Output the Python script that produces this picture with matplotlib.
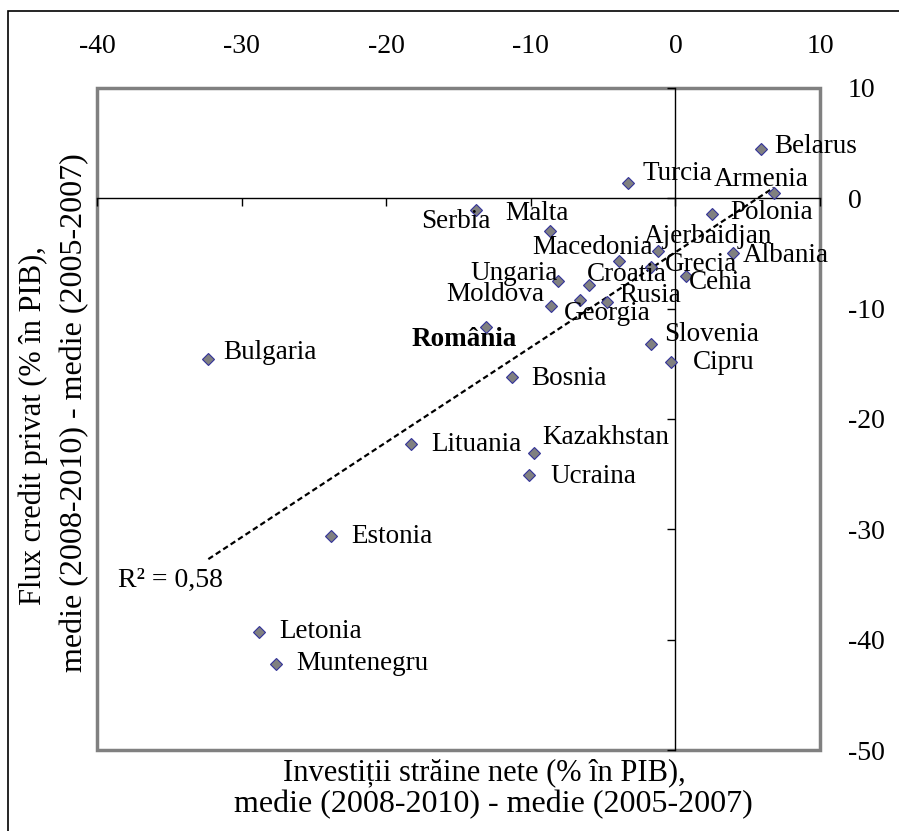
import numpy as np
import matplotlib
matplotlib.use("Agg")
import matplotlib.pyplot as plt
from matplotlib.patches import Rectangle

plt.rcParams['font.family'] = ['Liberation Serif', 'DejaVu Serif']
plt.rcParams['axes.unicode_minus'] = False

# data: net foreign investment vs private credit flow (% of GDP)
countries = ["Belarus", "Turcia", "Armenia", "Serbia", "Malta", "Polonia",
             "Ajerbaidjan", "Albania", "Macedonia", "Grecia", "Cehia",
             "Ungaria", "Croatia", "Moldova", "Georgia", "Rusia", "România",
             "Slovenia", "Cipru", "Bosnia", "Bulgaria", "Lituania",
             "Kazakhstan", "Ucraina", "Estonia", "Letonia", "Muntenegru"]
fdi = [5.9, -3.3, 6.8, -13.8, -8.7, 2.5, -1.2, 4.0, -3.9, -1.7, 0.7,
       -8.1, -6.0, -8.6, -6.6, -4.7, -13.1, -1.7, -0.3, -11.3, -32.3, -18.3,
       -9.8, -10.1, -23.8, -28.8, -27.6]
credit = [4.5, 1.4, 0.5, -1.1, -3.0, -1.4, -4.8, -5.0, -5.7, -6.2, -7.0,
          -7.5, -7.9, -9.8, -9.2, -9.4, -11.7, -13.2, -14.8, -16.2, -14.6,
          -22.3, -23.1, -25.1, -30.6, -39.3, -42.2]
x_ticks = [-40, -30, -20, -10, 0, 10]
y_ticks = [-50, -40, -30, -20, -10, 0, 10]
r2_text = "R\u00b2 = 0,58"

# label placement (pixel offsets from the marker, y up) and alignment
label_pos = {
    "Belarus": (14, 2, "left"), "Turcia": (15, 9, "left"),
    "Armenia": (-13, 13, "center"), "Serbia": (-20, -11, "center"),
    "Malta": (-13, 18, "center"), "Polonia": (19, 1, "left"),
    "Ajerbaidjan": (50, 15, "center"), "Albania": (9, -2, "left"),
    "Macedonia": (-26, 14, "center"), "Grecia": (14, 2, "left"),
    "Cehia": (3, -7, "left"), "Ungaria": (-44, 8, "center"),
    "Croatia": (38, 11, "center"), "Moldova": (-56, 12, "center"),
    "Georgia": (27, -14, "center"), "Rusia": (12, 7, "left"),
    "România": (-22, -12, "center"), "Slovenia": (13, 9, "left"),
    "Cipru": (22, -1, "left"), "Bosnia": (19, -1, "left"),
    "Bulgaria": (15, 7, "left"), "Lituania": (20, 0, "left"),
    "Kazakhstan": (9, 16, "left"), "Ucraina": (21, -1, "left"),
    "Estonia": (20, -1, "left"), "Letonia": (20, 0, "left"),
    "Muntenegru": (20, 0, "left"),
}

W, H = 899, 831
fig = plt.figure(figsize=(W/100, H/100), dpi=100)
ax = fig.add_axes([97/W, 1-750/H, (820-97)/W, (750-88)/H])
ax.set_xlim(-40, 10)
ax.set_ylim(-50, 10)

# axes crossing at zero
ax.spines['left'].set_position(('data', 0))
ax.spines['bottom'].set_position(('data', 0))
for s in ('left', 'bottom'):
    ax.spines[s].set_linewidth(1.0)
    ax.spines[s].set_color('black')
for s in ('top', 'right'):
    ax.spines[s].set_visible(False)
ax.set_xticks(x_ticks)
ax.set_yticks(y_ticks)
ax.tick_params(axis='x', bottom=True, top=False, labelbottom=False,
               labeltop=True, direction='out', length=6, width=1,
               pad=15, labelsize=20)
ax.tick_params(axis='y', left=True, right=False, labelleft=False,
               labelright=True, direction='out', length=6, width=1,
               pad=14, labelsize=20)
for lab in ax.get_yticklabels():
    lab.set_horizontalalignment('left')

# gray plot-area frame
ax.add_patch(Rectangle((0, 0), 1, 1, transform=ax.transAxes, fill=False,
                       edgecolor='#808080', lw=2.5, clip_on=False, zorder=1))

# trend line
coef = np.polyfit(fdi, credit, 1)
xt = np.array([min(fdi), max(fdi)])
ax.plot(xt, np.polyval(coef, xt), color='black', lw=1.6,
        linestyle=(0, (2.5, 1.5)), zorder=2)

ax.plot(fdi, credit, linestyle='none', marker='D', markersize=6,
        markerfacecolor='#808080', markeredgecolor='#333399',
        markeredgewidth=0.8, zorder=3)

for name, xv, yv in zip(countries, fdi, credit):
    dx, dy, ha = label_pos[name]
    ax.annotate(name, (xv, yv), xytext=(dx*0.72, dy*0.72),
                textcoords='offset points', ha=ha, va='center',
                fontsize=19.5,
                fontweight='bold' if name == "România" else 'normal')

ax.text((117.6-97)/723, 1-(580-88)/662, r2_text, transform=ax.transAxes,
        ha='left', va='center', fontsize=20)

# axis titles
fig.text(484/W, 1-773/H, "Investiții străine nete (% în PIB),",
         ha='center', va='center', fontsize=22)
fig.text(493/W, 1-805/H, "medie (2008-2010) - medie (2005-2007)",
         ha='center', va='center', fontsize=23)
fig.text(33/W, 1-426/H, "Flux credit privat (% în PIB),",
         ha='center', va='center', rotation=90, fontsize=22)
fig.text(75/W, 1-413/H, "medie (2008-2010) - medie (2005-2007)",
         ha='center', va='center', rotation=90, fontsize=23)

# outer frame
fig.patches.append(Rectangle((8/W, -0.1), 1.2, 1.1-11/H, fill=False,
                             edgecolor='black', lw=1.2,
                             transform=fig.transFigure, figure=fig))

fig.savefig("out.png", dpi=100)
